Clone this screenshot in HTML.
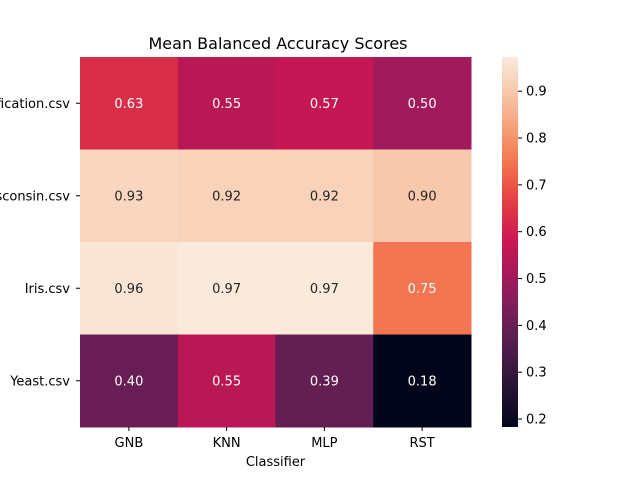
<!DOCTYPE html>
<html><head><meta charset="utf-8"><style>
body{margin:0;background:#fff;width:640px;height:480px;overflow:hidden}
svg text{font-family:"DejaVu Sans","Liberation Sans",sans-serif}
</style></head><body>
<svg id="chart" width="640" height="480" xmlns="http://www.w3.org/2000/svg">
<defs><linearGradient id="cbar" x1="0" y1="1" x2="0" y2="0"></linearGradient></defs>
<text x="278" y="49" font-size="16" text-anchor="middle">Mean Balanced Accuracy Scores</text>
<g id="cells"></g><g id="axes"></g><g id="cb"></g>
</svg>
<script>
const rows = ["Breast_Cancer_Classification.csv","Breast_Cancer_Wisconsin.csv","Iris.csv","Yeast.csv"];
const cols = ["GNB","KNN","MLP","RST"];
const r0 = [0.63,0.55,0.57,0.50];
const r1 = [0.93,0.92,0.92,0.90];
const r2 = [0.96,0.97,0.97,0.75];
const r3 = [0.40,0.55,0.39,0.18];
const values = [r0,r1,r2,r3];
const cbTicks = [0.2,0.3,0.4,0.5,0.6,0.7,0.8,0.9];
const vmin = 0.183, vmax = 0.973;

const stops=["#03051A","#231432","#4A1C4A","#721F57","#A01A5B","#C91752","#E23A43","#F26D4B","#F69C73","#F7C5A8","#FAEBDD"];
function hex(h){return [1,3,5].map(i=>parseInt(h.substr(i,2),16));}
function cmap(t){t=Math.max(0,Math.min(1,t));const p=t*10,i=Math.min(9,Math.floor(p)),f=p-i;
 const a=hex(stops[i]),b=hex(stops[i+1]);return "rgb("+a.map((v,k)=>Math.round(v+(b[k]-v)*f)).join(",")+")";}
const NS="http://www.w3.org/2000/svg";
function mk(tag,attrs,parent,txt){const e=document.createElementNS(NS,tag);for(const k in attrs)e.setAttribute(k,attrs[k]);if(txt!==undefined)e.textContent=txt;parent.appendChild(e);return e;}
const X0=80,X1=471,Y0=57,Y1=427;
const cw=(X1-X0)/cols.length, rh=(Y1-Y0)/rows.length;
const xOf=j=>X0+j*cw, yOf=i=>Y0+i*rh;
const cells=document.getElementById('cells'), axes=document.getElementById('axes'), cb=document.getElementById('cb');
values.forEach((row,i)=>row.forEach((v,j)=>{
 const r=mk('rect',{x:xOf(j),y:yOf(i),width:cw+0.5,height:rh+0.5,fill:cmap((v-vmin)/(vmax-vmin))},cells);
 
 
 const t=mk('text',{x:xOf(j)+cw/2,y:yOf(i)+rh/2+4.5,'font-size':13,'text-anchor':'middle',fill:v>=0.85?'#262626':'#fff'},cells,v.toFixed(2));
 
 
}));
cols.forEach((c,j)=>{const x=xOf(j)+cw/2;
 mk('line',{x1:x,x2:x,y1:Y1,y2:Y1+4,stroke:'#000'},axes);
 const t=mk('text',{x:x,y:Y1+20,'font-size':13,'text-anchor':'middle'},axes,c);
 
 });
rows.forEach((r,i)=>{const y=yOf(i)+rh/2;
 mk('line',{x1:X0-4,x2:X0,y1:y,y2:y,stroke:'#000'},axes);
 const t=mk('text',{x:X0-10,y:y+4.5,'font-size':13,'text-anchor':'end'},axes,r);
 
 });
const xl=mk('text',{x:(X0+X1)/2,y:466,'font-size':13,'text-anchor':'middle'},axes,'Classifier');


const CX=502,CW=16;const g=document.getElementById('cbar');
for(let k=0;k<=20;k++)mk('stop',{offset:k/20,'stop-color':cmap(k/20)},g);
const cr=mk('rect',{x:CX,y:Y0,width:CW,height:Y1-Y0,fill:'url(#cbar)'},cb);


const cy=v=>Y1-(v-vmin)/(vmax-vmin)*(Y1-Y0);
cbTicks.forEach(v=>{const y=cy(v);
 mk('line',{x1:CX+CW,x2:CX+CW+4,y1:y,y2:y,stroke:'#000'},cb);
 const t=mk('text',{x:CX+CW+8,y:y+4.5,'font-size':13},cb,v.toFixed(1));
 
 });
</script>
</body></html>
